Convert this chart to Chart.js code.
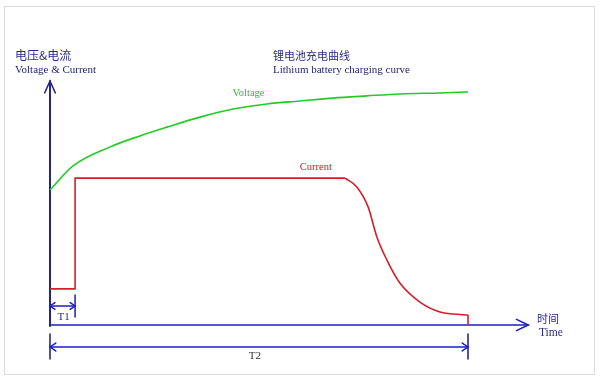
<!DOCTYPE html>
<html>
<head>
<meta charset="utf-8">
<script src="https://cdn.jsdelivr.net/npm/chart.js@4"></script>
<style>
  body { margin: 0; background: #fff; }
  #wrap { width: 600px; height: 380px; position: relative; }
</style>
</head>
<body>
<div id="wrap"><canvas id="chart"></canvas></div>
<script>
// time in % of T2, level in % of the vertical axis
const t1End = 6;
const t2End = 100;
const timeAxisEnd = 114.4;

const voltageTime = [0, 5.5, 14.4, 21.5, 28, 35.9, 43.8, 51.9, 59.8, 67.7, 75.8, 83.7, 93.3, 100];
const voltageLevel = [55.3, 65.2, 73, 77.5, 81.1, 85.2, 88.5, 90.6, 91.8, 93, 93.9, 94.7, 95.1, 95.5];

// pre-charge and constant current part
const currentStepTime = [0, 6, 6, 70.6];
const currentStepLevel = [14.8, 14.8, 60.2, 60.2];
// tapering part
const currentDropTime = [70.6, 73.4, 76.1, 78.2, 80.6, 83.7, 88.5, 93.3, 96.4, 100];
const currentDropLevel = [60.2, 56.6, 48.4, 36.1, 26.6, 17.2, 9.4, 5.3, 4.5, 4.1];
const currentEndTime = [100, 100];
const currentEndLevel = [4.1, 0];

const labels = {
  yCn: '电压&电流', yEn: 'Voltage & Current',
  titleCn: '锂电池充电曲线', titleEn: 'Lithium battery charging curve',
  xCn: '时间', xEn: 'Time',
  voltage: 'Voltage', current: 'Current', t1: 'T1', t2: 'T2'
};

const navy = '#2b2b8c';
const axisBlue = '#1c1cc8';
const red = '#d41f2a';
const serif = '"Liberation Serif", "DejaVu Serif", serif';
const cjk = '"Noto Sans CJK SC", sans-serif';

function toPoints(xs, ys) {
  return xs.map((x, i) => ({ x: x, y: ys[i] }));
}

function line(ctx, x1, y1, x2, y2) {
  ctx.beginPath();
  ctx.moveTo(x1, y1);
  ctx.lineTo(x2, y2);
  ctx.stroke();
}

// open arrow head, dir = angle the arrow points to
function head(ctx, x, y, dir, len, spread) {
  ctx.beginPath();
  ctx.moveTo(x + len * Math.cos(dir + Math.PI - spread), y + len * Math.sin(dir + Math.PI - spread));
  ctx.lineTo(x, y);
  ctx.lineTo(x + len * Math.cos(dir + Math.PI + spread), y + len * Math.sin(dir + Math.PI + spread));
  ctx.stroke();
}

function text(ctx, str, x, y, font, color) {
  ctx.font = font;
  ctx.fillStyle = color;
  ctx.fillText(str, x, y);
}

const sketch = {
  id: 'sketch',
  beforeDraw(chart) {
    const ctx = chart.ctx;
    ctx.save();
    ctx.fillStyle = '#fff';
    ctx.fillRect(0, 0, chart.width, chart.height);
    ctx.strokeStyle = '#dcdcdc';
    ctx.lineWidth = 1;
    ctx.strokeRect(4.5, 6.5, 590, 368);
    ctx.restore();
  },
  beforeDatasetsDraw(chart) {
    const ctx = chart.ctx;
    const xs = chart.scales.x, ys = chart.scales.y;
    const x0 = xs.getPixelForValue(0);
    const y0 = ys.getPixelForValue(0);
    const yTop = ys.getPixelForValue(100);
    const xEnd = xs.getPixelForValue(timeAxisEnd);
    const xT1 = xs.getPixelForValue(t1End);
    const xT2 = xs.getPixelForValue(t2End);
    ctx.save();
    ctx.lineCap = 'round';

    // vertical axis
    ctx.strokeStyle = '#24248a';
    ctx.lineWidth = 2;
    line(ctx, x0, y0 + 1, x0, yTop);
    ctx.lineWidth = 1.5;
    head(ctx, x0, yTop, -Math.PI / 2, 13, 0.42);

    // horizontal axis
    ctx.strokeStyle = axisBlue;
    ctx.lineWidth = 1.6;
    line(ctx, x0, y0, xEnd, y0);
    head(ctx, xEnd, y0, 0, 13, 0.45);

    // T1 dimension
    const yT1 = y0 - 19;
    ctx.lineWidth = 1.5;
    line(ctx, xT1, yT1 - 11, xT1, yT1 + 11);
    line(ctx, x0, yT1, xT1, yT1);
    head(ctx, x0, yT1, Math.PI, 6, 0.6);
    head(ctx, xT1, yT1, 0, 6, 0.6);

    // T2 dimension
    const yT2 = y0 + 22;
    ctx.strokeStyle = '#1a1a70';
    line(ctx, x0, yT2 - 13, x0, yT2 + 12);
    line(ctx, xT2, yT2 - 13, xT2, yT2 + 12);
    ctx.strokeStyle = axisBlue;
    line(ctx, x0, yT2, xT2, yT2);
    head(ctx, x0, yT2, Math.PI, 7, 0.6);
    head(ctx, xT2, yT2, 0, 7, 0.6);

    // texts
    ctx.textBaseline = 'middle';
    ctx.textAlign = 'left';
    text(ctx, labels.yCn, 15, 55, '12px ' + cjk, navy);
    text(ctx, labels.yEn, 15, 70, '11px ' + serif, '#1e1e6e');
    text(ctx, labels.titleCn, 273, 56, '11px ' + cjk, navy);
    text(ctx, labels.titleEn, 273, 70, '11px ' + serif, '#1e1e6e');
    text(ctx, labels.xCn, 537, 319, '11px ' + cjk, navy);
    text(ctx, labels.xEn, 539, 333, '11.5px ' + serif, navy);
    ctx.textAlign = 'center';
    text(ctx, labels.t1, (x0 + xT1) / 2 + 1, yT1 + 11, '11px ' + serif, navy);
    text(ctx, labels.t2, xs.getPixelForValue(49), yT2 + 9, '11px ' + serif, '#333');
    text(ctx, labels.voltage, xs.getPixelForValue(47.5), ys.getPixelForValue(95), '10.5px ' + serif, '#2fbf2f');
    text(ctx, labels.current, xs.getPixelForValue(63.6), ys.getPixelForValue(64.8), '10.5px ' + serif, '#c8202a');
    ctx.restore();
  }
};

const lineStyle = { borderWidth: 1.6, pointRadius: 0, clip: false };

new Chart(document.getElementById('chart'), {
  type: 'line',
  data: {
    datasets: [
      Object.assign({
        label: labels.voltage,
        data: toPoints(voltageTime, voltageLevel),
        borderColor: '#22cc22',
        cubicInterpolationMode: 'monotone'
      }, lineStyle),
      Object.assign({
        label: labels.current,
        data: toPoints(currentStepTime, currentStepLevel),
        borderColor: red,
        tension: 0
      }, lineStyle),
      Object.assign({
        label: labels.current,
        data: toPoints(currentDropTime, currentDropLevel),
        borderColor: red,
        cubicInterpolationMode: 'monotone'
      }, lineStyle),
      Object.assign({
        label: labels.current,
        data: toPoints(currentEndTime, currentEndLevel),
        borderColor: red,
        tension: 0
      }, lineStyle)
    ]
  },
  options: {
    responsive: true,
    maintainAspectRatio: false,
    animation: false,
    layout: { padding: { left: 50, right: 132, top: 81, bottom: 55 } },
    scales: {
      x: { type: 'linear', min: 0, max: t2End, display: false },
      y: { min: 0, max: 100, display: false }
    },
    plugins: {
      legend: { display: false },
      tooltip: { enabled: false }
    }
  },
  plugins: [sketch]
});
</script>
</body>
</html>
